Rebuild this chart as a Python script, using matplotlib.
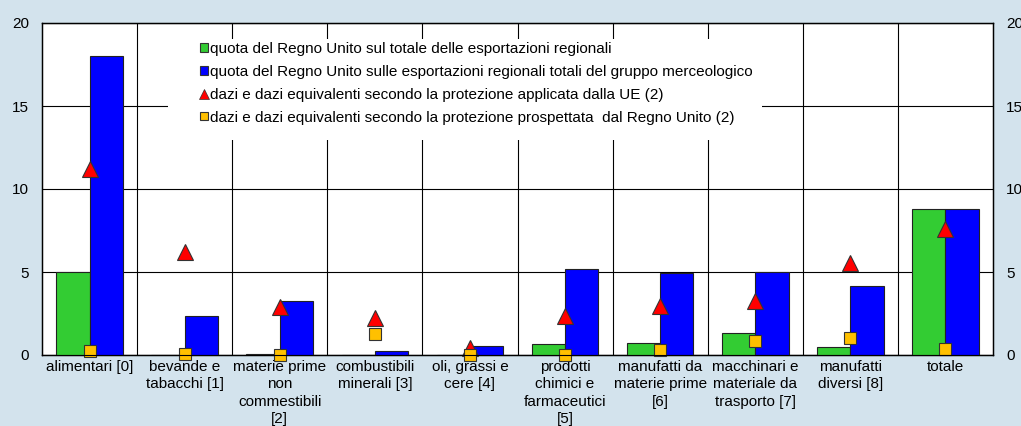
import numpy as np
import matplotlib
matplotlib.use('Agg')
import matplotlib.pyplot as plt
from matplotlib.lines import Line2D
from matplotlib.patches import Patch, Rectangle

plt.rcParams['font.family'] = ['Liberation Sans', 'DejaVu Sans']
plt.rcParams['font.size'] = 11

categorie = ['alimentari [0]', 'bevande e\ntabacchi [1]',
             'materie prime\nnon\ncommestibili\n[2]', 'combustibili\nminerali [3]',
             'oli, grassi e\ncere [4]', 'prodotti\nchimici e\nfarmaceutici\n[5]',
             'manufatti da\nmaterie prime\n[6]', 'macchinari e\nmateriale da\ntrasporto [7]',
             'manufatti\ndiversi [8]', 'totale']
quota_totale = [5.0, 0.03, 0.05, 0.02, 0.02, 0.65, 0.72, 1.35, 0.5, 8.8]
quota_gruppo = [18.0, 2.35, 3.28, 0.25, 0.55, 5.2, 4.95, 5.02, 4.15, 8.8]
dazi_ue = [11.2, 6.2, 2.9, 2.25, 0.45, 2.35, 2.95, 3.25, 5.55, 7.6]
dazi_uk = [0.25, 0.05, 0.02, 1.25, 0.02, 0.02, 0.28, 0.82, 1.05, 0.38]

etichette = ['quota del Regno Unito sul totale delle esportazioni regionali',
             'quota del Regno Unito sulle esportazioni regionali totali del gruppo merceologico',
             'dazi e dazi equivalenti secondo la protezione applicata dalla UE (2)',
             'dazi e dazi equivalenti secondo la protezione prospettata  dal Regno Unito (2)']

sfondo = '#d3e3ed'
fig = plt.figure(figsize=(10.21, 4.26), dpi=100, facecolor=sfondo)
ax = fig.add_axes([42/1021, 1-355/426, (993-42)/1021, (355-23)/426])
ax.set_facecolor('white')

x = np.arange(len(categorie))
w = 0.35
ax.bar(x - w/2, quota_totale, w, color='#33cc33', edgecolor='#222222', linewidth=0.8, zorder=3)
ax.bar(x + w/2, quota_gruppo, w, color='#0000ff', edgecolor='#222222', linewidth=0.8, zorder=3)
ax.plot(x, dazi_ue, linestyle='none', marker='^', markersize=11, color='#ff0000',
        markeredgecolor='#333333', markeredgewidth=0.8, zorder=5, clip_on=False)
ax.plot(x, dazi_uk, linestyle='none', marker='s', markersize=8.5, color='#ffc000',
        markeredgecolor='#333333', markeredgewidth=0.8, zorder=5, clip_on=False)

ax.set_xlim(-0.5, len(categorie) - 0.5)
ax.set_ylim(0, 20)
ax.set_yticks([0, 5, 10, 15, 20])
ax.set_xticks(x)
ax.set_xticklabels(categorie, linespacing=1.32)
ax.set_xticks(x[:-1] + 0.5, minor=True)
ax.tick_params(axis='x', which='both', length=0, pad=3.5)
ax.tick_params(axis='y', length=0, pad=9.5)
ax.grid(axis='y', which='major', color='black', linewidth=0.8, zorder=0)
ax.grid(axis='x', which='minor', color='black', linewidth=0.8, zorder=0)
for s in ax.spines.values():
    s.set_color('black')
    s.set_linewidth(1.0)

ax2 = ax.twinx()
ax2.set_ylim(0, 20)
ax2.set_yticks([0, 5, 10, 15, 20])
ax2.tick_params(axis='y', length=0, pad=9.5)

# riquadro bianco della legenda
ax.add_patch(Rectangle((0.1325, 0.6476), 0.625, 0.3044, transform=ax.transAxes,
                       facecolor='white', edgecolor='none', zorder=2))

maniglie = [Patch(facecolor='#33cc33', edgecolor='#333333', linewidth=0.8),
            Patch(facecolor='#0000ff', edgecolor='#333333', linewidth=0.8),
            Line2D([], [], linestyle='none', marker='^', markersize=7, color='#ff0000',
                   markeredgecolor='#333333', markeredgewidth=0.5),
            Patch(facecolor='#ffc000', edgecolor='#333333', linewidth=0.8)]
leg = ax.legend(maniglie, etichette, loc='upper left', bbox_to_anchor=(0.166, 0.943),
                frameon=False, handlelength=0.5, handleheight=0.5,
                handletextpad=0.15, labelspacing=0.58, borderpad=0, borderaxespad=0)
leg.set_zorder(10)

fig.savefig('out.png', dpi=100, facecolor=sfondo)
